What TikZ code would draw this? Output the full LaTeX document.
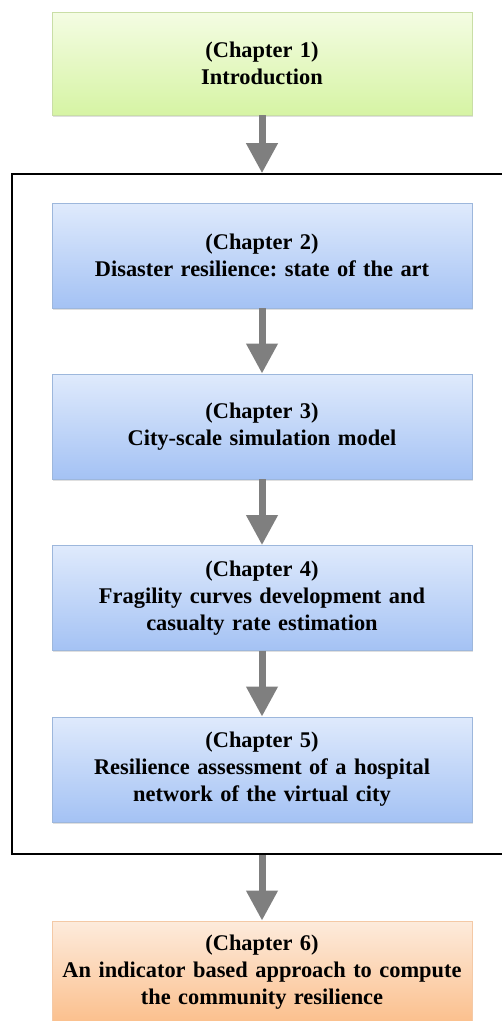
\documentclass[tikz,border=0pt]{standalone}
\usepackage{fontspec}
\setmainfont{Liberation Serif}
\usepackage{xcolor}
\usetikzlibrary{arrows.meta, shadows}

\definecolor{introtop}{HTML}{F4FCE3}
\definecolor{introbot}{HTML}{D6F4A4}
\definecolor{introline}{HTML}{C9DEA6}
\definecolor{coretop}{HTML}{DFEAFC}
\definecolor{corebot}{HTML}{A4C2F4}
\definecolor{coreline}{HTML}{9DB7DC}
\definecolor{endtop}{HTML}{FDEBDC}
\definecolor{endbot}{HTML}{FBBF8C}
\definecolor{endline}{HTML}{F4C9A6}
\definecolor{flowgray}{HTML}{7F7F7F}

\begin{document}
\frenchspacing
\begin{tikzpicture}[
    x=1pt,
    y=-1pt,
    font=\bfseries\fontsize{22.4}{27}\selectfont,
    chapbox/.style={draw, line width=0.8pt, minimum width=420pt, minimum height=105pt,
        text width=414pt, align=center, inner sep=0pt,
        drop shadow={shadow xshift=1.2pt, shadow yshift=-1.6pt, opacity=0.25}},
    introbox/.style={chapbox, draw=introline, top color=introtop, bottom color=introbot},
    corebox/.style={chapbox, draw=coreline, top color=coretop, bottom color=corebot},
    endbox/.style={chapbox, draw=endline, top color=endtop, bottom color=endbot},
    frame/.style={draw=black, line width=1.6pt, minimum width=493pt, minimum height=680pt, inner sep=0pt},
    flow/.style={draw=flowgray, line width=7pt, -{Triangle[width=30pt, length=30pt]}}
]
    \useasboundingbox (0,0) rectangle (502,1021);

    % --- Outer frame (chapters 2--5) ---
    \node[frame] (core) at (258.5, 514) {};

    % --- Chapters ---
    \node[introbox, minimum height=103pt] (ch1) at (262, 63.5) {(Chapter 1)\\Introduction};
    \node[corebox] (ch2) at (262, 255.5) {(Chapter 2)\\Disaster resilience: state of the art};
    \node[corebox] (ch3) at (262, 426.5) {(Chapter 3)\\City-scale simulation model};
    \node[corebox] (ch4) at (262, 598) {(Chapter 4)\\Fragility curves development and\\casualty rate estimation};
    \node[corebox] (ch5) at (262, 769.5) {(Chapter 5)\\Resilience assessment of a hospital\\network of the virtual city};
    \node[endbox, minimum height=103pt] (ch6) at (262, 972.5) {(Chapter 6)\\An indicator based approach to compute\\the community resilience};

    % --- Flow ---
    \draw[flow] (ch1.south) -- (ch1.south |- core.north);
    \draw[flow] (ch2) -- (ch3);
    \draw[flow] (ch3) -- (ch4);
    \draw[flow] (ch4) -- (ch5);
    \draw[flow] (ch6.north |- core.south) -- (ch6.north);
\end{tikzpicture}
\end{document}
